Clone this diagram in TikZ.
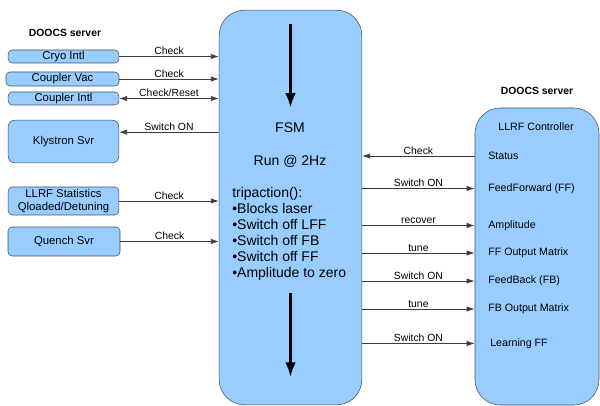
\documentclass[tikz,border=0pt]{standalone}
\usepackage{fontspec}
\setmainfont{Liberation Sans}
\usepackage{tikz}
\usetikzlibrary{positioning,arrows.meta,calc}
\definecolor{boxblue}{RGB}{153,204,255}
\definecolor{boxline}{RGB}{70,80,95}
\definecolor{linkgray}{RGB}{60,60,60}
\tikzstyle{srv} = [draw=boxline, fill=boxblue, rounded corners=3pt, inner sep=0pt, align=center, font=\fontsize{8.5}{9.5}\selectfont]
\tikzstyle{big} = [draw=boxline, fill=boxblue, rounded corners=19pt, inner sep=0pt]
\tikzstyle{link} = [draw=linkgray, line width=0.6pt, -{Latex[length=6pt,width=4pt]}]
\tikzstyle{lbl} = [font=\fontsize{7.8}{9}\selectfont, inner sep=0.8pt, above]
\tikzstyle{item} = [anchor=west, inner sep=0pt, font=\fontsize{8}{9}\selectfont]
\tikzstyle{flow} = [line width=2.2pt, -{Latex[length=11pt,width=8pt]}]

\begin{document}
\begin{tikzpicture}[x=0.75pt, y=-0.75pt]
            \useasboundingbox (0,0) rectangle (600,406);
            % left side servers
            \node[font=\bfseries\fontsize{7.8}{9}\selectfont] (doocsl) at (65,33) {DOOCS server};
            \node[srv, minimum width=83pt, minimum height=9.75pt] (cryo) at (63.5,56.5) {Cryo Intl};
            \node[srv, minimum width=84.75pt, minimum height=10.5pt] (cvac) at (62.5,79) {Coupler Vac};
            \node[srv, minimum width=83pt, minimum height=9.75pt] (cintl) at (63.5,98.5) {Coupler Intl};
            \node[srv, rounded corners=5pt, minimum width=83pt, minimum height=32pt] (klys) at (63.5,141.5) {Klystron Svr};
            \node[srv, minimum width=83pt, minimum height=21pt] (stats) at (63.5,201) {LLRF Statistics\\Qloaded/Detuning};
            \node[srv, minimum width=84pt, minimum height=21.75pt] (quench) at (64,241.5) {Quench Svr};

            % FSM
            \node[big, minimum width=107pt, minimum height=296pt] (fsm) at (290.5,207.5) {};
            \node[font=\fontsize{10.5}{12}\selectfont] (fsmname) at (290,128) {FSM};
            \node[font=\fontsize{10.5}{12}\selectfont] (rate) at (290,161) {Run @ 2Hz};
            \node[anchor=north west, align=left, inner sep=0pt, font=\fontsize{10.5}{12}\selectfont] (trip) at (232,187)
                {tripaction():\\•Blocks laser\\•Switch off LFF\\•Switch off FB\\•Switch off FF\\•Amplitude to zero};
            \coordinate (up1) at ([yshift=-10.5pt]fsm.north);
            \coordinate (up2) at ([yshift=21pt]fsm.south);
            \draw[flow] (up1) -- ++(0,84);
            \draw[flow] (up2) ++(0,-84) -- (up2);

            % right side controller
            \node[font=\bfseries\fontsize{7.8}{9}\selectfont] (doocsr) at (537,91) {DOOCS server};
            \node[big, minimum width=93pt, minimum height=222.75pt] (llrf) at (537,256.5) {};
            \node[font=\fontsize{8}{9}\selectfont] (ctrl) at (536,127) {LLRF Controller};
            \node[item] (status) at (488,156) {Status};
            \node[item] (ff) at (488,188.5) {FeedForward (FF)};
            \node[item] (amp) at (488,225.5) {Amplitude};
            \node[item] (ffmat) at (488,253) {FF Output Matrix};
            \node[item] (fb) at (488,281) {FeedBack (FB)};
            \node[item] (fbmat) at (488,309) {FB Output Matrix};
            \node[item] (lff) at (490,343.5) {Learning FF};

            % links left
            \draw[link] (cryo.east) -- (cryo.east -| fsm.west) node[lbl, midway] {Check};
            \draw[link] (cvac.east) -- (cvac.east -| fsm.west) node[lbl, midway] {Check};
            \draw[link, {Latex[length=6pt,width=4pt]}-{Latex[length=6pt,width=4pt]}] (cintl.east) -- (cintl.east -| fsm.west) node[lbl, midway] {Check/Reset};
            \coordinate (klysin) at ([yshift=7pt]klys.east);
            \draw[link] (klysin -| fsm.west) -- (klysin) node[lbl, midway] {Switch ON};
            \draw[link] (stats.east) -- (stats.east -| fsm.west) node[lbl, midway] {Check};
            \draw[link] (quench.east) -- (quench.east -| fsm.west) node[lbl, midway] {Check};

            % links right
            \draw[link] (status -| llrf.west) -- (status -| fsm.east) node[lbl, midway] {Check};
            \draw[link] (ff -| fsm.east) -- (ff -| llrf.west) node[lbl, midway] {Switch ON};
            \draw[link] (amp -| fsm.east) -- (amp -| llrf.west) node[lbl, midway] {recover};
            \draw[link] (ffmat -| fsm.east) -- (ffmat -| llrf.west) node[lbl, midway] {tune};
            \draw[link] (fb -| fsm.east) -- (fb -| llrf.west) node[lbl, midway] {Switch ON};
            \draw[link] (fbmat -| fsm.east) -- (fbmat -| llrf.west) node[lbl, midway] {tune};
            \draw[link] (lff -| fsm.east) -- (lff -| llrf.west) node[lbl, midway] {Switch ON};
\end{tikzpicture}
\end{document}
